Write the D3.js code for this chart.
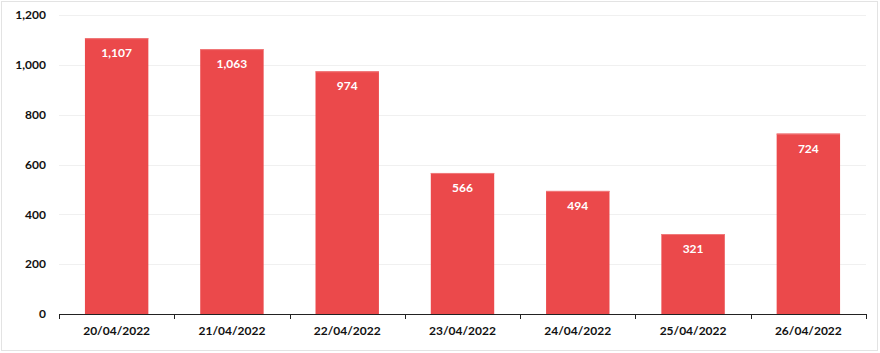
<!DOCTYPE html>
<html><head><meta charset="utf-8">
<script src="https://cdn.jsdelivr.net/npm/d3@7"></script>
<style>
html,body{margin:0;padding:0;background:#fff;}
svg{display:block;font-family:Lato,"Open Sans",sans-serif;}
</style></head>
<body><svg id="c" width="880" height="353"></svg>
<script>
const categories = ["20/04/2022","21/04/2022","22/04/2022","23/04/2022","24/04/2022","25/04/2022","26/04/2022"];
const values = [1107,1063,974,566,494,321,724];
const yTicks = [0,200,400,600,800,1000,1200];

const svg = d3.select("#c");
const m = {l:59, r:14, t:15, b:39};
const W = 880, H = 353;
svg.append("rect").attr("x",1.5).attr("y",1.5).attr("width",W-4).attr("height",H-4)
  .attr("fill","#fff").attr("stroke","#e3e3e3").attr("stroke-width",1);

const x = d3.scaleBand().domain(categories).range([m.l, W-m.r]).paddingInner(0.45).paddingOuter(0.225);
const y = d3.scaleLinear().domain([0,1200]).range([H-m.b, m.t]);
const fmt = d3.format(",");

// grid
svg.append("g").selectAll("line").data(yTicks.filter(d=>d>0)).join("line")
  .attr("x1",m.l).attr("x2",W-m.r)
  .attr("y1",d=>Math.round(y(d))+0.5).attr("y2",d=>Math.round(y(d))+0.5)
  .attr("stroke","#f0f0f0");

// y labels
svg.append("g").selectAll("text").data(yTicks).join("text")
  .attr("x",46).attr("y",d=>y(d)).attr("dy","0.35em")
  .attr("text-anchor","end").attr("font-size",12).attr("font-weight","bold").attr("fill","#111")
  .text(d=>fmt(d));

// bars
svg.append("g").selectAll("rect").data(values).join("rect")
  .attr("x",(d,i)=>x(categories[i])).attr("width",x.bandwidth())
  .attr("y",d=>y(d)).attr("height",d=>y(0)-y(d))
  .attr("fill","#eb494b");
svg.append("g").selectAll("line").data(values).join("line")
  .attr("x1",(d,i)=>x(categories[i])).attr("x2",(d,i)=>x(categories[i])+x.bandwidth())
  .attr("y1",d=>y(d)+0.5).attr("y2",d=>y(d)+0.5).attr("stroke","#f07a7b");

// value labels
svg.append("g").selectAll("text").data(values).join("text")
  .attr("x",(d,i)=>x(categories[i])+x.bandwidth()/2).attr("y",d=>y(d)+19)
  .attr("text-anchor","middle").attr("font-size",12).attr("font-weight","bold").attr("fill","#fff")
  .text(d=>fmt(d));

// x axis
const step = x.step();
const xa = svg.append("g");
xa.append("line").attr("x1",m.l).attr("x2",W-m.r).attr("y1",y(0)+0.5).attr("y2",y(0)+0.5).attr("stroke","#222");
const edges = d3.range(categories.length+1).map(i=>m.l+i*step);
xa.selectAll("line.t").data(edges).join("line").attr("class","t")
  .attr("x1",d=>Math.round(d)+0.5).attr("x2",d=>Math.round(d)+0.5)
  .attr("y1",y(0)).attr("y2",y(0)+5).attr("stroke","#222");
xa.selectAll("text").data(categories).join("text")
  .attr("x",d=>x(d)+x.bandwidth()/2).attr("y",y(0)+21)
  .attr("text-anchor","middle").attr("font-size",12).attr("font-weight","bold").attr("fill","#111")
  .text(d=>d);
</script></body></html>
